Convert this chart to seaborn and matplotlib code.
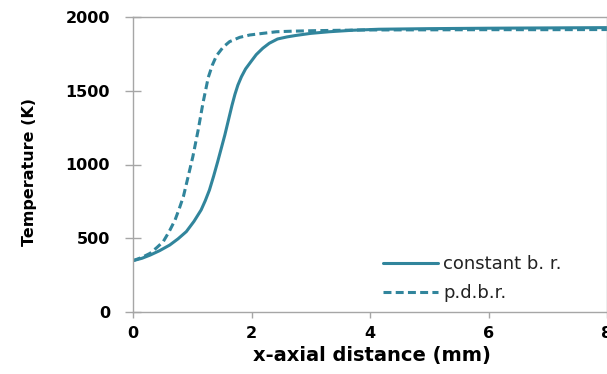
import matplotlib
matplotlib.use("Agg")
import matplotlib.pyplot as plt
import seaborn as sns
import pandas as pd

# Data
x_const = [0.0, 0.15, 0.29, 0.45, 0.62, 0.76, 0.90, 1.03, 1.15, 1.22, 1.29, 1.36, 1.43, 1.49, 1.55,
           1.61, 1.67, 1.72, 1.77, 1.83, 1.90, 1.99, 2.08, 2.19, 2.30, 2.44, 2.60, 2.75, 3.0, 3.31,
           3.7, 4.15, 5.0, 6.0, 7.0, 8.0]
t_const = [348, 364, 386, 416, 454, 496, 545, 615, 692, 755, 827, 920, 1020, 1110, 1200,
           1300, 1400, 1475, 1538, 1595, 1648, 1697, 1745, 1788, 1822, 1851, 1865, 1875, 1889, 1900,
           1910, 1917, 1921, 1924, 1926, 1928]

x_pdbr = [0.0, 0.15, 0.29, 0.40, 0.51, 0.61, 0.71, 0.78, 0.85, 0.92, 1.01, 1.10, 1.18,
          1.27, 1.34, 1.41, 1.52, 1.63, 1.80, 1.97, 2.19, 2.42, 2.7, 3.03, 3.5, 3.87, 5.0,
          6.0, 7.0, 8.0]
t_pdbr = [348, 370, 398, 436, 477, 545, 624, 700, 782, 900, 1053, 1234, 1415,
          1590, 1675, 1738, 1795, 1833, 1862, 1878, 1889, 1900, 1904, 1907, 1910, 1912, 1913,
          1914, 1914, 1915]

labels = ["constant b. r.", "p.d.b.r."]
x_ticks = [0, 2, 4, 6, 8]
y_ticks = [0, 500, 1000, 1500, 2000]

df = pd.concat([
    pd.DataFrame({"x": x_const, "T": t_const, "case": labels[0]}),
    pd.DataFrame({"x": x_pdbr, "T": t_pdbr, "case": labels[1]}),
])

sns.set_theme(style="white")
plt.rcParams["font.family"] = ["DejaVu Sans"]

fig = plt.figure(figsize=(6.07, 3.74), dpi=100)
ax = fig.add_axes([133 / 607, 1 - 312 / 374, (607 - 133) / 607, (312 - 17) / 374])

color = "#31859C"
sns.lineplot(data=df, x="x", y="T", style="case", hue="case",
             palette=[color, color], dashes={labels[0]: "", labels[1]: (2.6, 1.4)},
             linewidth=2.2, ax=ax, sort=False)

ax.set_xlim(0, 8)
ax.set_ylim(0, 2000)
ax.set_xticks(x_ticks)
ax.set_yticks(y_ticks)
ax.set_xticklabels([str(v) for v in x_ticks], fontweight="bold", fontsize=11.5, color="black")
ax.set_yticklabels([str(v) for v in y_ticks], fontweight="bold", fontsize=11.5, color="black")

for s in ax.spines.values():
    s.set_color("#A6A6A6")
    s.set_linewidth(1.0)
    s.set_visible(True)

ax.tick_params(axis="y", direction="inout", length=11, width=1, color="#A6A6A6", pad=11, left=True)
ax.tick_params(axis="x", direction="out", length=4, width=1, color="#A6A6A6", pad=6, bottom=True)

ax.set_xlabel("x-axial distance (mm)", fontweight="bold", fontsize=14, color="black")
ax.xaxis.set_label_coords(0.505, -0.115)
ax.set_ylabel("Temperature (K)", fontweight="bold", fontsize=11.5, color="black")
ax.yaxis.set_label_coords(-0.203, 0.475)

leg = ax.legend(loc="upper left", frameon=False, fontsize=13, handlelength=3.0,
                handletextpad=0.3, labelspacing=0.6, borderpad=0.4,
                bbox_to_anchor=(0.494, 0.248))
for line in leg.get_lines():
    line.set_linewidth(2.2)
for t in leg.get_texts():
    t.set_color("#222222")

fig.savefig("out.png", dpi=100)
